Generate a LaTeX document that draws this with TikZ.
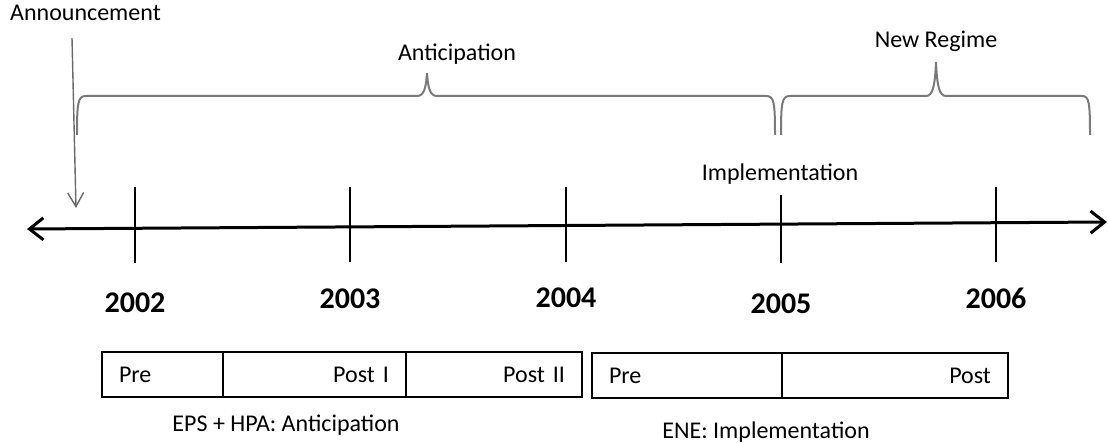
\documentclass[tikz,border=0pt]{standalone}
\usepackage{fontspec}
\setmainfont{Carlito}
\usetikzlibrary{arrows.meta}
\definecolor{bracegray}{HTML}{7A7A7A}
\definecolor{anngray}{HTML}{6A6A6A}
\begin{document}
\begin{tikzpicture}[x=1pt,y=-1pt,
  lbl/.style={font=\fontsize{24}{28}\selectfont, inner sep=0pt, anchor=base},
  year/.style={font=\fontsize{30}{34}\selectfont\bfseries, inner sep=0pt},
  cell/.style={draw, line width=1.5pt, minimum height=45pt, inner xsep=17pt, inner ysep=0pt, font=\fontsize{24}{28}\selectfont},
  tickline/.style={line width=2.6pt},
  axisline/.style={line width=3pt, {Straight Barb[length=14pt,width=22pt]}-{Straight Barb[length=14pt,width=22pt]}},
  brace/.style={draw=bracegray, line width=2pt},
  annarrow/.style={draw=anngray, line width=1.4pt, -{Straight Barb[length=14pt,width=16pt]}}
]
\useasboundingbox (0,0) rectangle (1108,443);

% axis
\coordinate (L) at (27,229);
\coordinate (R) at (1107,222);
\draw[axisline] (L) -- (R);

% ticks
\coordinate (t1a) at (135,187); \coordinate (t1b) at (135,263);
\coordinate (t2a) at (350,187); \coordinate (t2b) at (350,262);
\coordinate (t3a) at (566,187); \coordinate (t3b) at (566,262);
\coordinate (t4a) at (781,195); \coordinate (t4b) at (781,263);
\coordinate (t5a) at (996,187); \coordinate (t5b) at (996,262);
\draw[tickline] (t1a) -- (t1b);
\draw[tickline] (t2a) -- (t2b);
\draw[tickline] (t3a) -- (t3b);
\draw[tickline] (t4a) -- (t4b);
\draw[tickline] (t5a) -- (t5b);

% years
\node[year] (y2002) at (135,302.5) {2002};
\node[year] (y2003) at (350,299) {2003};
\node[year] (y2004) at (566,298) {2004};
\node[year] (y2005) at (781,304) {2005};
\node[year] (y2006) at (996,298) {2006};

% announcement
\node[lbl] (ann) at (85.5,20.5) {Announcement};
\coordinate (annS) at (72,38);
\coordinate (annE) at (76,208);
\draw[annarrow] (annS) -- (annE);

% braces
\draw[brace] (77,135) .. controls (77,102) and (78,96) .. (86,96) -- (417,96)
  .. controls (424,96) and (426,88) .. (427,73)
  .. controls (428,88) and (430,96) .. (437,96) -- (766,96)
  .. controls (774,96) and (775,102) .. (775,135);
\draw[brace] (781,135) .. controls (781,102) and (782,96) .. (790,96) -- (926,96)
  .. controls (933,96) and (935,85) .. (936,62)
  .. controls (937,85) and (939,96) .. (946,96) -- (1082,96)
  .. controls (1089,96) and (1090,102) .. (1090,135);

\node[lbl] (antic) at (457,60.5) {Anticipation};
\node[lbl] (newreg) at (936,47.5) {New Regime};
\node[lbl] (impl) at (780,180.5) {Implementation};

% boxes
\node[cell, minimum width=121pt, text width=87pt, align=left] (c1) at (162.5,374.5) {Pre};
\node[cell, minimum width=183pt, text width=149pt, align=right] (c2) at (314.5,374.5) {Post I};
\node[cell, minimum width=176pt, text width=142pt, align=right] (c3) at (494,374.5) {Post II};
\node[cell, minimum width=190pt, text width=156pt, align=left] (c4) at (687,375.5) {Pre};
\node[cell, minimum width=226pt, text width=192pt, align=right] (c5) at (895,375.5) {Post};

\node[lbl] (epsl) at (286,431) {EPS + HPA: Anticipation};
\node[lbl] (enel) at (766,438) {ENE: Implementation};
\end{tikzpicture}
\end{document}
